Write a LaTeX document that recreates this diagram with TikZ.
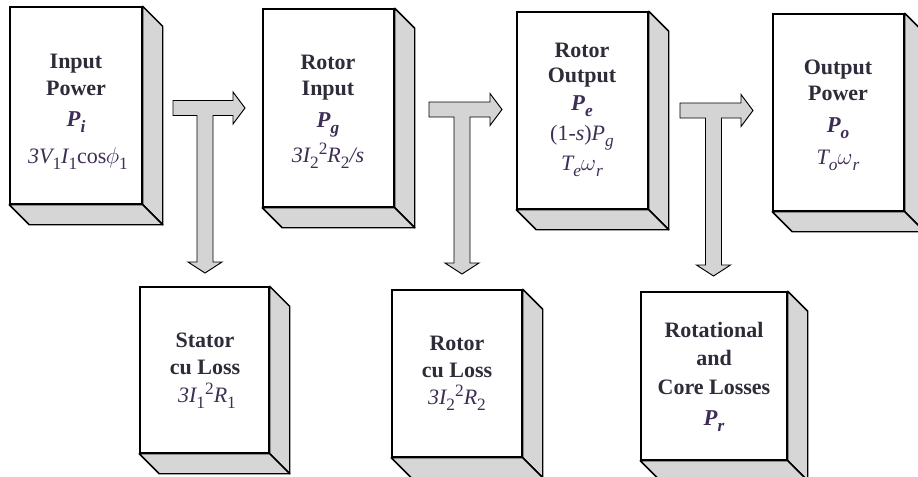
\documentclass[tikz,border=0pt]{standalone}
\usepackage{fontspec}
\setmainfont{Liberation Serif}
\definecolor{wordc}{RGB}{45,45,58}
\definecolor{mathc}{RGB}{62,45,85}
\definecolor{sidec}{RGB}{214,214,214}
\definecolor{arrc}{RGB}{212,212,212}
\newcommand{\lo}[1]{\raisebox{-4.5pt}{\fontsize{13}{13}\selectfont #1}}
\newcommand{\hi}[1]{\raisebox{6pt}{\fontsize{13}{13}\selectfont #1}}
\tikzset{
 front/.style={draw=black, line width=1.1pt, fill=white, inner sep=0pt},
 side/.style={draw=black, line width=1.1pt, fill=sidec, line join=round},
 word/.style={anchor=base, text=wordc, font=\fontsize{16.5}{19}\selectfont\bfseries, inner sep=0pt},
 form/.style={anchor=base, text=mathc, font=\fontsize{16.5}{19}\selectfont\itshape, inner sep=0pt},
 pvar/.style={anchor=base, text=mathc, font=\fontsize{17}{19}\selectfont\bfseries\itshape, inner sep=0pt},
 tarr/.style={draw=black, line width=0.7pt, fill=arrc, line join=miter},
}
\newcommand{\cube}[5]{%
 \node[front, minimum width={(#4-#2)*0.75pt}, minimum height={(#5-#3)*0.75pt}] (#1) at ({(#2+#4)/2},{(#3+#5)/2}) {};
 \draw[side] (#1.north east) -- ++(20,20) -- ([shift={(20,20)}]#1.south east) -- (#1.south east) -- cycle;
 \draw[side] (#1.south west) -- ++(20,20) -- ([shift={(20,20)}]#1.south east) -- (#1.south east) -- cycle;
}
\newcommand{\Tarrow}[5]{%
 \draw[tarr] (#1,#2-7.5) -- (#3-12,#2-7.5) -- (#3-12,#2-16) -- (#3,#2) -- (#3-12,#2+16) -- (#3-12,#2+7.5)
  -- (#4+8,#2+7.5) -- (#4+8,#5-11) -- (#4+17,#5-11) -- (#4,#5) -- (#4-17,#5-11) -- (#4-8,#5-11)
  -- (#4-8,#2+7.5) -- (#1,#2+7.5) -- cycle;}
\begin{document}
\begin{tikzpicture}[x=0.75pt,y=-0.75pt]
\useasboundingbox (0,0) rectangle (918,476);
\fill[white] (0,0) rectangle (918,476);
% boxes
\cube{b1}{10}{7}{142}{204}
\cube{b2}{263}{9}{394}{207}
\cube{b3}{517}{12}{648}{209}
\cube{b4}{773}{14}{904}{211}
\cube{b5}{140}{287}{269}{453}
\cube{b6}{392}{290}{522}{457}
\cube{b7}{641}{292}{787}{460}
% T arrows
\Tarrow{173}{108}{245}{205}{273}
\Tarrow{429}{109.5}{502}{462}{274}
\Tarrow{680}{110.5}{753}{713.5}{276}
% texts box 1
\node[word] (t11) at (76,68) {Input};
\node[word] (t12) at (76,95) {Power};
\node[pvar] (t13) at (76,126) {P\lo{i}};
\node[form] (t14) at (78,163) {3V\lo{\upshape 1}I\lo{\upshape 1}\upshape cos\kern-0.5pt$\phi$\lo{1}};
% box 2
\node[word] (t21) at (328,69) {Rotor};
\node[word] (t22) at (328,95) {Input};
\node[pvar] (t23) at (328,127) {P\lo{g}};
\node[form] (t24) at (328,162) {3I\lo{\upshape 2}\hi{\upshape 2}R\lo{\upshape 2}/s};
% box 3
\node[word] (t31) at (582,57) {Rotor};
\node[word] (t32) at (582,82) {Output};
\node[pvar] (t33) at (582,110) {P\lo{e}};
\node[form] (t34) at (582,140) {\upshape(1-\textit{s})\textit{P}\lo{\itshape g}};
\node[form] (t35) at (582,170) {T\lo{e}$\omega$\lo{r}};
% box 4
\node[word] (t41) at (838,74) {Output};
\node[word] (t42) at (838,100) {Power};
\node[pvar] (t43) at (838,132) {P\lo{o}};
\node[form] (t44) at (838,164) {T\lo{o}$\omega$\lo{r}};
% box 5
\node[word] (t51) at (205,347) {Stator};
\node[word] (t52) at (205,374) {cu Loss};
\node[form] (t53) at (207,402) {3I\lo{\upshape 1}\hi{\upshape 2}R\lo{\upshape 1}};
% box 6
\node[word] (t61) at (457,350) {Rotor};
\node[word] (t62) at (457,377) {cu Loss};
\node[form] (t63) at (457,404) {3I\lo{\upshape 2}\hi{\upshape 2}R\lo{\upshape 2}};
% box 7
\node[word] (t71) at (714,337) {Rotational};
\node[word] (t72) at (714,365) {and};
\node[word] (t73) at (714,394) {Core Losses};
\node[pvar] (t74) at (714,425) {P\lo{r}};
\end{tikzpicture}
\end{document}
